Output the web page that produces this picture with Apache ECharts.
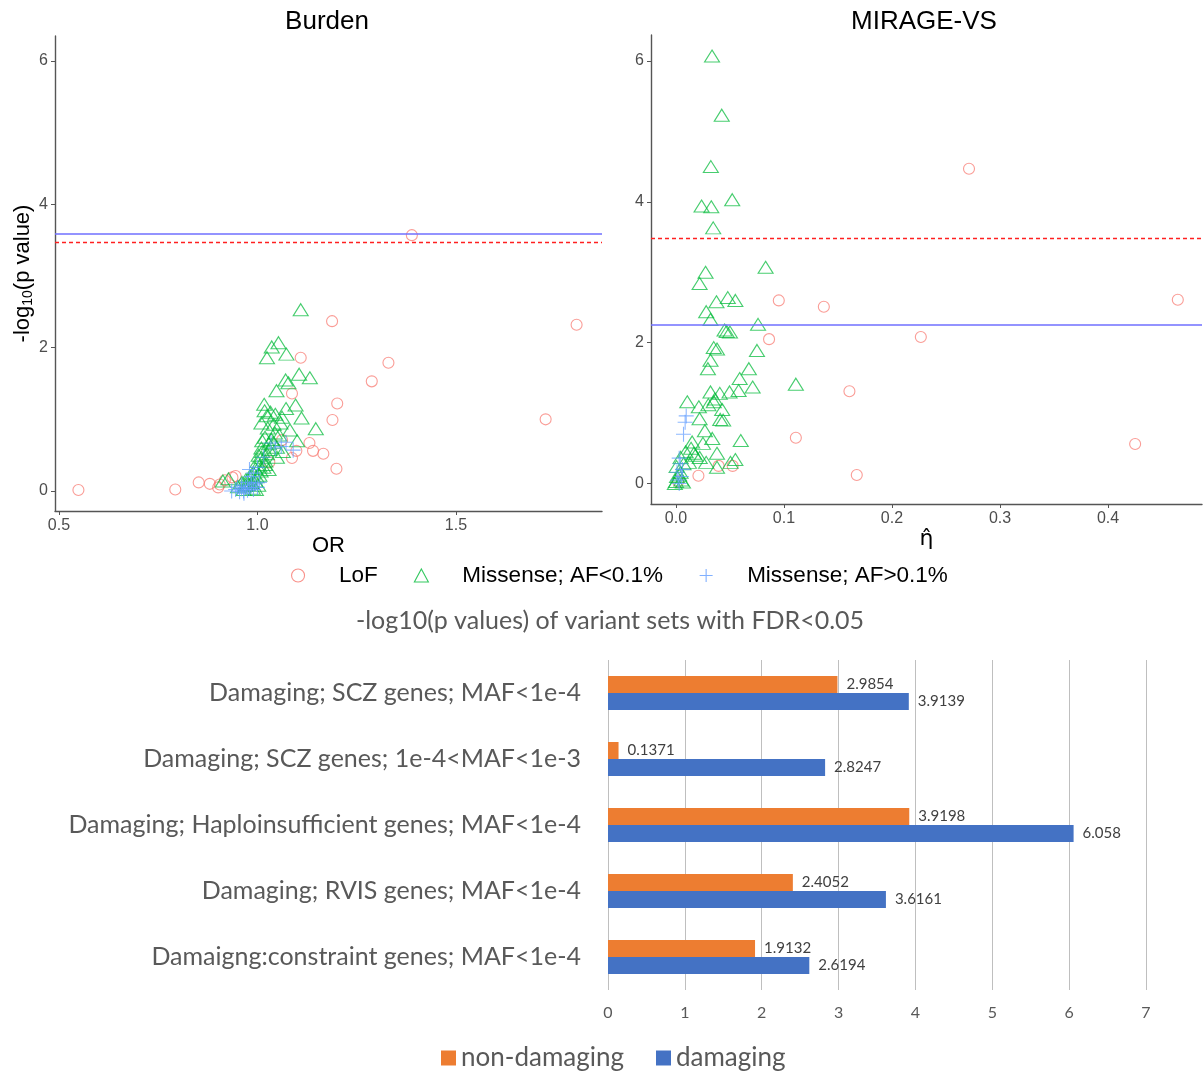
<!DOCTYPE html>
<html><head><meta charset="utf-8">
<script src="https://cdn.jsdelivr.net/npm/echarts@6/dist/echarts.min.js"></script>
<style>html,body{margin:0;padding:0;background:#fff}#c{width:1204px;height:1073px}</style>
</head><body><div id="c"></div>
<script>
// ---------- Data ----------
const panelTitles = ['Burden', 'MIRAGE-VS'];
const groupNames = ['LoF', 'Missense; AF<0.1%', 'Missense; AF>0.1%'];

// Burden panel: [OR, -log10(p)]
const burdenLoF = [[0.549,0.015],[0.793,0.02],[0.852,0.12],[0.880,0.10],[0.901,0.05],[0.905,0.09],[0.918,0.15],[0.937,0.19],[0.945,0.21],[1.389,3.57],[1.188,2.37],[1.804,2.32],[1.109,1.86],[1.330,1.79],[1.288,1.53],[1.087,1.36],[1.201,1.22],[1.189,0.99],[1.726,1.00],[1.131,0.67],[1.140,0.56],[1.166,0.52],[1.098,0.56],[1.087,0.46],[1.199,0.31],[1.062,0.71],[1.030,0.40]];
const burdenMisRare = [[1.109,2.53],[1.053,2.07],[1.036,2.01],[1.024,1.86],[1.073,1.91],[1.105,1.63],[1.132,1.58],[1.071,1.55],[1.078,1.51],[1.048,1.40],[1.017,1.21],[1.096,1.20],[1.072,1.15],[1.018,1.12],[1.024,1.05],[1.111,1.02],[1.062,1.03],[1.041,0.93],[1.010,0.95],[1.147,0.87],[1.082,0.85],[1.044,0.81],[1.019,0.75],[1.100,0.70],[1.029,0.66],[1.049,0.61],[1.010,0.60],[1.064,0.55],[1.024,0.52],[1.010,0.47],[1.049,0.47],[1.000,0.41],[1.019,0.37],[0.995,0.31],[0.990,0.25],[0.981,0.21],[0.971,0.16],[1.005,0.22],[0.995,0.14],[0.961,0.12],[0.913,0.14],[0.927,0.17],[0.976,0.09],[0.951,0.06],[1.003,0.50],[1.012,0.55],[1.030,0.58],[1.035,0.72],[1.040,0.68],[1.015,0.33],[1.008,0.28],[0.998,0.20],[0.985,0.12],[0.970,0.08],[0.988,0.04],[1.002,0.08],[1.020,0.42],[1.026,0.88],[1.055,0.78],[1.058,0.95],[1.033,1.10],[1.045,1.07],[1.012,0.70],[1.005,0.35],[1.028,0.30],[0.996,0.02],[0.965,0.02]];
const burdenMisCommon = [[0.935,0.00],[0.945,0.02],[0.955,-0.01],[0.960,0.03],[0.965,0.00],[0.970,0.05],[0.975,0.01],[0.980,0.04],[0.985,0.08],[0.990,0.02],[0.995,0.10],[0.960,0.08],[0.975,0.12],[0.984,0.20],[0.990,0.25],[0.980,0.30],[1.000,0.33],[1.000,0.05],[1.005,0.12],[0.950,0.05],[0.966,-0.03],[1.016,0.47],[1.034,0.67],[1.072,0.68],[1.090,0.57],[1.060,0.62],[1.045,0.60]];

// MIRAGE-VS panel: [eta-hat, -log10(p)]
const mirageLoF = [[0.2713,4.47],[0.0952,2.60],[0.1369,2.51],[0.4646,2.61],[0.0862,2.05],[0.2267,2.08],[0.1606,1.31],[0.1110,0.65],[0.4251,0.56],[0.1674,0.12],[0.0208,0.11],[0.0395,0.25],[0.0525,0.25],[0.0020,0.03]];
const mirageMisRare = [[0.0334,6.07],[0.0424,5.23],[0.0323,4.50],[0.0521,4.03],[0.0237,3.94],[0.0327,3.93],[0.0345,3.63],[0.0274,3.00],[0.0830,3.07],[0.0219,2.84],[0.0375,2.58],[0.0480,2.64],[0.0550,2.60],[0.0280,2.44],[0.0320,2.33],[0.0760,2.26],[0.0450,2.18],[0.0470,2.16],[0.0500,2.15],[0.0350,1.93],[0.0380,1.91],[0.0750,1.89],[0.0320,1.75],[0.0296,1.63],[0.0675,1.63],[0.0590,1.49],[0.1110,1.41],[0.0710,1.37],[0.0580,1.32],[0.0496,1.30],[0.0320,1.30],[0.0406,1.28],[0.0360,1.20],[0.0350,1.16],[0.0105,1.16],[0.0300,1.12],[0.0212,1.09],[0.0428,1.05],[0.0437,0.90],[0.0410,0.91],[0.0219,0.92],[0.0268,0.75],[0.0336,0.64],[0.0600,0.61],[0.0150,0.59],[0.0250,0.57],[0.0140,0.50],[0.0090,0.45],[0.0166,0.43],[0.0380,0.43],[0.0180,0.40],[0.0043,0.37],[0.0220,0.37],[0.0505,0.30],[0.0550,0.34],[0.0120,0.30],[0.0280,0.30],[0.0070,0.28],[0.0380,0.23],[0.0006,0.24],[0.0043,0.16],[0.0030,0.12],[0.0010,0.10],[0.0050,0.05],[0.0000,0.03],[0.0065,0.02],[-0.0010,0.00]];
const mirageMisCommon = [[0.0095,0.96],[0.0085,0.87],[0.0070,0.70],[0.0030,0.36],[0.0040,0.28],[0.0060,0.20],[0.0010,0.16],[0.0050,0.10],[0.0020,0.05],[0.0030,0.00]];

// Significance thresholds: [solid blue, dashed red]
const burdenThresholds = [3.586, 3.474];
const mirageThresholds = [2.251, 3.487];

// Axis tick labels
const burdenXTicks = [0.5, 1.0, 1.5];
const mirageXTicks = [0.0, 0.1, 0.2, 0.3, 0.4];
const yTicks = [0, 2, 4, 6];

// Bar chart
const barTitle = '-log10(p values) of variant sets with FDR<0.05';
const barCategories = ['Damaging; SCZ genes; MAF<1e-4','Damaging; SCZ genes; 1e-4<MAF<1e-3','Damaging; Haploinsufficient genes; MAF<1e-4','Damaging; RVIS genes; MAF<1e-4','Damaigng:constraint genes; MAF<1e-4'];
const barSeriesNames = ['non-damaging', 'damaging'];
const nonDamaging = [2.9854, 0.1371, 3.9198, 2.4052, 1.9132];
const damaging = [3.9139, 2.8247, 6.058, 3.6161, 2.6194];

// ---------- Styles ----------
const SANS = '"Liberation Sans", Arial, sans-serif';
const BARFONT = 'Lato, "Open Sans", sans-serif';
const COL_LOF = '#F8766D', COL_MIS = '#00BA38', COL_COM = '#619CFF';
const PLUS = 'path://M0,6L12,6M6,0L6,12';
const axisCol = '#555';

function sc(name, data, gi, kind) {
  const st = {
    LoF: {symbol: 'circle', size: 11, col: COL_LOF},
    rare: {symbol: 'triangle', size: [15, 12], col: COL_MIS},
    com: {symbol: PLUS, size: 15, col: COL_COM}
  }[kind];
  return {
    type: 'scatter', name, data, xAxisIndex: gi, yAxisIndex: gi,
    symbol: st.symbol, symbolSize: st.size, symbolKeepAspect: true,
    itemStyle: {color: 'rgba(0,0,0,0)', borderColor: st.col, borderWidth: 1.1, opacity: 0.72},
    emphasis: {disabled: true}, silent: true
  };
}
function thr(vals) {
  return {
    silent: true, symbol: 'none', label: {show: false}, precision: 4,
    data: [
      {yAxis: vals[0], lineStyle: {color: '#6F6FFF', type: 'solid', width: 1.5, opacity: 1}},
      {yAxis: vals[1], lineStyle: {color: '#FF2020', type: [4, 3], width: 1.4, opacity: 1}}
    ]
  };
}
function xAx(gi, min, max, ticks, name, nameOpt) {
  return Object.assign({
    type: 'value', gridIndex: gi, min, max,
    axisLine: {show: true, onZero: false, lineStyle: {color: axisCol, width: 1.4}},
    axisTick: {show: true, length: 4, customValues: ticks, lineStyle: {color: axisCol}},
    axisLabel: {customValues: ticks, formatter: v => v.toFixed(1), fontSize: 16, color: '#4D4D4D', fontFamily: SANS, margin: 7},
    splitLine: {show: false},
    name, nameLocation: 'middle', nameGap: 21,
    nameTextStyle: {fontSize: 22, color: '#000', fontFamily: SANS}
  }, nameOpt || {});
}
function yAx(gi, min, max, nameOpt) {
  return Object.assign({
    type: 'value', gridIndex: gi, min, max,
    axisLine: {show: true, onZero: false, lineStyle: {color: axisCol, width: 1.4}},
    axisTick: {show: true, length: 4, customValues: yTicks, lineStyle: {color: axisCol}},
    axisLabel: {customValues: yTicks, fontSize: 16, color: '#4D4D4D', fontFamily: SANS, margin: 7},
    splitLine: {show: false}
  }, nameOpt || {});
}

const barLabel = {show: true, position: 'right', distance: 9, fontSize: 15, color: '#404040', fontFamily: BARFONT};
const series = [
  Object.assign(sc(groupNames[0], burdenLoF, 0, 'LoF'), {markLine: thr(burdenThresholds)}),
  sc(groupNames[1], burdenMisRare, 0, 'rare'),
  sc(groupNames[2], burdenMisCommon, 0, 'com'),
  Object.assign(sc(groupNames[0], mirageLoF, 1, 'LoF'), {markLine: thr(mirageThresholds)}),
  sc(groupNames[1], mirageMisRare, 1, 'rare'),
  sc(groupNames[2], mirageMisCommon, 1, 'com'),
  {
    type: 'bar', name: barSeriesNames[0], data: nonDamaging, xAxisIndex: 2, yAxisIndex: 2,
    barWidth: 17, barGap: '0%', itemStyle: {color: '#ED7D31'}, label: barLabel,
    emphasis: {disabled: true}, silent: true
  },
  {
    type: 'bar', name: barSeriesNames[1], data: damaging, xAxisIndex: 2, yAxisIndex: 2,
    barWidth: 17, barGap: '0%', itemStyle: {color: '#4472C4'}, label: barLabel,
    emphasis: {disabled: true}, silent: true
  }
];

const legIcon = (col) => ({color: 'rgba(0,0,0,0)', borderColor: col, borderWidth: 1.1, opacity: 0.8});
const option = {
  animation: false,
  backgroundColor: '#fff',
  title: [
    {text: panelTitles[0], left: 322, top: 4, textAlign: 'center', textStyle: {fontSize: 26, fontWeight: 'normal', color: '#000', fontFamily: SANS}},
    {text: panelTitles[1], left: 919, top: 4, textAlign: 'center', textStyle: {fontSize: 26, fontWeight: 'normal', color: '#000', fontFamily: SANS}},
    {text: barTitle, left: 605, top: 603, textAlign: 'center', textStyle: {fontSize: 25, fontWeight: 'normal', color: '#595959', fontFamily: BARFONT}}
  ],
  grid: [
    {left: 55, top: 36, width: 547, height: 475},
    {left: 651, top: 35, width: 551, height: 469},
    {left: 608, top: 660, width: 538, height: 330}
  ],
  legend: [
    {
      data: [
        {name: groupNames[0], icon: 'circle', itemStyle: legIcon(COL_LOF)},
        {name: groupNames[1], icon: 'triangle', itemStyle: legIcon(COL_MIS)},
        {name: groupNames[2], icon: PLUS, itemStyle: legIcon(COL_COM)}
      ],
      left: 291, top: 564, padding: 0, itemWidth: 14, itemHeight: 13, itemGap: 36,
      selectedMode: false,
      textStyle: {fontSize: 22.5, color: '#000', fontFamily: SANS, padding: [0, 0, 0, 29]}
    },
    {
      data: barSeriesNames, icon: 'rect',
      left: 441, top: 1045, padding: 0, itemWidth: 15, itemHeight: 15, itemGap: 32,
      selectedMode: false,
      textStyle: {fontSize: 26, color: '#595959', fontFamily: BARFONT}
    }
  ],
  xAxis: [
    xAx(0, 0.490, 1.868, burdenXTicks, 'OR'),
    xAx(1, -0.0231, 0.487, mirageXTicks, '\u03B7\u0302', {nameGap: 23, nameTextStyle: {fontSize: 22, color: '#000', fontFamily: '"DejaVu Sans", sans-serif'}}),
    {
      type: 'value', gridIndex: 2, min: 0, max: 7, interval: 1,
      axisLine: {show: false}, axisTick: {show: false},
      axisLabel: {fontSize: 16, color: '#595959', fontFamily: BARFONT, margin: 15},
      splitLine: {show: true, lineStyle: {color: '#BFBFBF', width: 1}}
    }
  ],
  yAxis: [
    yAx(0, -0.279, 6.349, {
      name: '-log{s|10}(p value)', nameLocation: 'middle', nameGap: 20,
      nameTextStyle: {fontSize: 22, color: '#000', fontFamily: SANS,
        rich: {s: {fontSize: 14, color: '#000', fontFamily: SANS, verticalAlign: 'bottom', padding: [10, 0, 0, 0]}}}
    }),
    yAx(1, -0.291, 6.369),
    {
      type: 'category', gridIndex: 2, data: barCategories, inverse: true,
      axisLine: {show: false}, axisTick: {show: false},
      axisLabel: {fontSize: 25, color: '#595959', fontFamily: BARFONT, margin: 27},
      splitLine: {show: false}
    }
  ],
  series
};
const chart = echarts.init(document.getElementById('c'));
chart.setOption(option);
</script>
</body></html>
